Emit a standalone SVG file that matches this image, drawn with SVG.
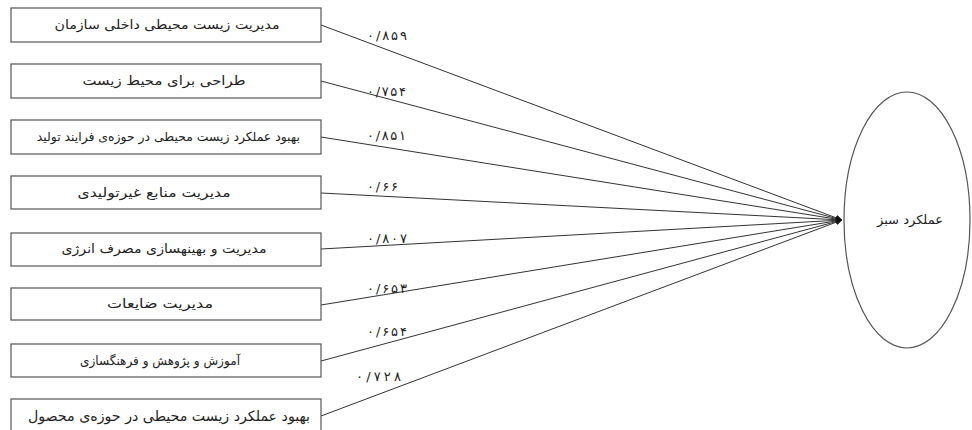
<svg xmlns="http://www.w3.org/2000/svg" width="972" height="430" viewBox="0 0 972 430">
<style>
.box{fill:#fff;stroke:#555;stroke-width:1.2}
.t{font-family:"DejaVu Sans","Noto Sans",sans-serif;font-size:12.5px;fill:#222;text-anchor:middle;direction:rtl}
.r{font-family:"DejaVu Sans","Noto Sans",sans-serif;fill:#222;text-anchor:start;direction:rtl}
.n{font-family:"DejaVu Sans","Noto Sans",sans-serif;font-size:13px;fill:#222}
.c{stroke:#333;stroke-width:1;fill:none;marker-end:url(#ah)}
</style>
<defs>
<marker id="ah" viewBox="0 0 10 10" refX="10" refY="5" markerWidth="8" markerHeight="6" markerUnits="userSpaceOnUse" orient="auto">
<path d="M0,0 L10,5 L0,10 z" fill="#111"/>
</marker>
</defs>
<rect width="972" height="430" fill="#fff"/>
<g id="connectors">
<line class="c" x1="321" y1="25" x2="842" y2="220"/>
<line class="c" x1="321" y1="81" x2="842" y2="220"/>
<line class="c" x1="321" y1="137" x2="842" y2="220"/>
<line class="c" x1="321" y1="193" x2="842" y2="220"/>
<line class="c" x1="321" y1="249" x2="842" y2="220"/>
<line class="c" x1="321" y1="305" x2="842" y2="220"/>
<line class="c" x1="321" y1="361" x2="842" y2="220"/>
<line class="c" x1="321" y1="416" x2="842" y2="220"/>
<text class="n" x="367" y="40" textLength="40" lengthAdjust="spacing">۰/۸۵۹</text>
<text class="n" x="367" y="96" textLength="39" lengthAdjust="spacing">۰/۷۵۴</text>
<text class="n" x="367" y="140" textLength="39" lengthAdjust="spacing">۰/۸۵۱</text>
<text class="n" x="367" y="191" textLength="31" lengthAdjust="spacing">۰/۶۶</text>
<text class="n" x="367" y="243" textLength="40" lengthAdjust="spacing">۰/۸۰۷</text>
<text class="n" x="367" y="293" textLength="40" lengthAdjust="spacing">۰/۶۵۳</text>
<text class="n" x="367" y="336" textLength="40" lengthAdjust="spacing">۰/۶۵۴</text>
<text class="n" x="356" y="381" textLength="45" lengthAdjust="spacing">۰/۷۲۸</text>
</g>
<g id="n1"><rect class="box" x="11" y="8" width="310" height="34"/><text class="t" x="167" y="29" textLength="225" lengthAdjust="spacingAndGlyphs">مدیریت زیست محیطی داخلی سازمان</text></g>
<g id="n2"><rect class="box" x="11" y="64" width="310" height="34"/><text class="t" x="164" y="85" textLength="163" lengthAdjust="spacingAndGlyphs">طراحی برای محیط زیست</text></g>
<g id="n3"><rect class="box" x="11" y="120" width="310" height="34"/><text class="r" x="300" y="141" style="font-size:12.4px">بهبود عملکرد زیست محیطی در حوزه‌ی فرایند تولید</text></g>
<g id="n4"><rect class="box" x="11" y="176" width="310" height="33"/><text class="t" x="154" y="197" textLength="153" lengthAdjust="spacingAndGlyphs">مدیریت منابع غیرتولیدی</text></g>
<g id="n5"><rect class="box" x="11" y="233" width="310" height="33"/><text class="t" x="164" y="253" textLength="205" lengthAdjust="spacingAndGlyphs">مدیریت و بهینهسازی مصرف انرژی</text></g>
<g id="n6"><rect class="box" x="11" y="288" width="310" height="32"/><text class="t" x="160" y="308" textLength="106" lengthAdjust="spacingAndGlyphs">مدیریت ضایعات</text></g>
<g id="n7"><rect class="box" x="11" y="344" width="310" height="33"/><text class="t" x="160" y="365" textLength="160" lengthAdjust="spacingAndGlyphs">آموزش و پژوهش و فرهنگسازی</text></g>
<g id="n8"><rect class="box" x="11" y="399" width="310" height="40"/><text class="r" x="310" y="421" style="font-size:14.2px">بهبود عملکرد زیست محیطی در حوزه‌ی محصول</text></g>
<g id="n9"><ellipse cx="907" cy="220" rx="63" ry="128" fill="#fff" stroke="#555" stroke-width="1.2"/><text class="t" x="910" y="224" textLength="66" lengthAdjust="spacingAndGlyphs">عملکرد سبز</text></g>
</svg>
